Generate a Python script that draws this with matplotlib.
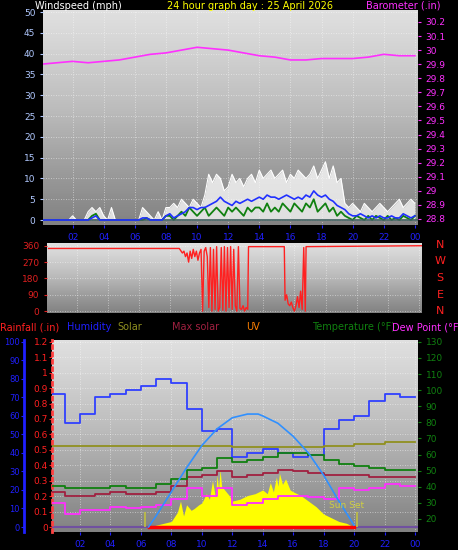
import numpy as np
import matplotlib
matplotlib.use("Agg")
import matplotlib.pyplot as plt

W, H = 458, 550

# ---- wind panel data (quarter-hourly, mph) ----
wind_hours = np.arange(0, 24.01, 0.25)
gust = [0, 0, 0, 0, 0, 0, 0, 0, 1, 0, 0, 0, 2, 3, 2, 3, 1, 0, 3, 0,
        0, 0, 0, 0, 0, 0, 3, 2, 1, 0, 2, 0, 3, 3, 4, 3, 5, 4, 3, 5,
        4, 3, 6, 11, 9, 11, 10, 7, 8, 11, 9, 10, 8, 10, 11, 9, 12, 10, 11, 12,
        10, 11, 12, 9, 11, 10, 12, 11, 10, 11, 13, 10, 12, 14, 10, 13, 9, 10, 4, 3,
        4, 3, 2, 4, 3, 2, 3, 4, 3, 2, 3, 4, 5, 3, 4, 5, 4]
avg = [0, 0, 0, 0, 0, 0, 0, 0, 0, 0, 0, 0, 0, 0.5, 1, 0, 0, 0, 0, 0,
       0, 0, 0, 0, 0, 0, 0.5, 0.5, 0, 0, 0, 0, 1, 1.5, 0.5, 1, 1.5, 2, 3, 3,
       2.5, 3, 3, 3.5, 4, 4.5, 5.5, 4.5, 4, 3.5, 4.5, 4, 4.5, 5, 4.5, 5, 5.5, 5, 6, 5.5,
       5.5, 5, 5.5, 6, 5.5, 5, 5.5, 5, 6, 5.5, 7, 6, 5.5, 6, 5, 4.5, 3.5, 3, 2.5, 1.5,
       1, 1, 1.5, 1, 0.5, 1, 0.5, 1, 0.5, 0.5, 1, 0.5, 0.5, 1.5, 1, 0.5, 1]
lull = [0, 0, 0, 0, 0, 0, 0, 0, 0, 0, 0, 0, 0, 1, 1.5, 0, 0, 0, 0, 0,
        0, 0, 0, 0, 0, 0, 0, 0.5, 0, 0, 0, 0, 1, 1, 0, 1, 2, 1, 3, 2,
        1, 2, 3, 1, 2, 3, 2, 1, 3, 2, 3, 2, 1, 3, 2, 3, 3, 2, 4, 2,
        3, 2, 4, 3, 2, 4, 3, 2, 4, 3, 5, 2, 3, 4, 2, 3, 1, 2, 1, 0.5,
        0, 1, 0.5, 0, 1, 0, 1, 0.5, 0, 1, 0, 0.5, 0, 1, 0.5, 0, 1]
baro_hours = np.arange(0, 25)
baro = [29.90, 29.91, 29.92, 29.91, 29.92, 29.93, 29.95, 29.97, 29.98, 30.00,
        30.02, 30.01, 30.00, 29.98, 29.96, 29.95, 29.93, 29.93, 29.94, 29.94,
        29.94, 29.95, 29.97, 29.96, 29.96]

# ---- wind direction (degrees) ----
dir_hours = [0.2, 8.6, 8.8, 8.9, 9.0, 9.1, 9.2, 9.3, 9.4, 9.5, 9.6, 9.7, 9.8, 9.9,
             10.0, 10.1, 10.2, 10.3, 10.4, 10.5, 10.6, 10.7, 10.8, 10.9, 11.0, 11.1,
             11.2, 11.3, 11.4, 11.5, 11.6, 11.7, 11.8, 11.9, 12.0, 12.1, 12.2, 12.3,
             12.4, 12.5, 12.6, 12.7, 12.8, 12.9, 13.0, 13.05, 15.35, 15.4, 15.5, 15.6,
             15.7, 15.8, 15.9, 16.0, 16.1, 16.2, 16.3, 16.4, 16.5, 16.6, 16.7, 16.75, 24.2]
dir_deg = [345, 345, 320, 330, 300, 320, 270, 330, 290, 340, 300, 330, 280, 320,
           340, 0, 330, 350, 300, 20, 350, 0, 340, 10, 355, 0, 20,
           350, 5, 355, 0, 350, 20, 355, 10, 340, 30, 0, 355,
           15, 10, 30, 0, 20, 10, 355, 355, 60, 90, 40, 30,
           50, 20, 0, 30, 80, 20, 110, 10, 350, 0, 355, 360]

# ---- bottom panel data (hourly, on humidity scale) ----
hours = np.arange(0, 25)
humidity = [72, 56, 61, 70, 72, 74, 76, 80, 78, 64, 52, 53, 38, 40, 42, 40, 38, 39,
            53, 58, 60, 68, 72, 70, 70]
solar_line = [44, 44, 44, 44, 44, 44, 44, 44, 44, 44, 44, 44, 43, 43, 43, 43, 43, 43,
              43.5, 43.5, 45, 45, 46, 46, 46]
max_solar = [19, 17, 17, 18, 19, 18, 18, 19, 22, 27, 28, 30, 27, 28, 29, 31, 30, 29,
             28, 28, 28, 27, 27, 27, 27]
temperature = [22, 21, 21, 21, 22, 21, 21, 23, 26, 31, 32, 37, 35, 36, 38, 40, 40, 39,
               36, 34, 33, 32, 31, 31, 31]
dew_point = [13, 7, 9, 9, 11, 10, 11, 12, 15, 21, 17, 21, 12, 13, 15, 17, 17, 16,
             15, 21, 20, 21, 23, 22, 22]
uv_hours = [6.5, 7, 8, 9, 10, 11, 12, 13, 13.7, 14, 15, 16, 17, 18, 19, 20]
uv = [0, 6, 19, 32, 44, 53, 59, 61, 61, 60, 56, 49, 40, 28, 14, 1]
sol_hours = [6.5, 7, 7.5, 8, 8.4, 8.6, 8.8, 9, 9.3, 9.5, 9.8, 10, 10.3, 10.5, 10.7,
             10.9, 11.0, 11.1, 11.2, 11.3, 11.5, 11.8, 12, 12.5, 13, 13.5, 14, 14.3,
             14.5, 14.7, 14.9, 15.0, 15.1, 15.3, 15.5, 15.8, 16, 16.5, 17, 17.5,
             18, 18.5, 19, 19.5, 20]
solar = [0, 1, 2, 3, 8, 14, 6, 12, 9, 10, 12, 13, 18, 15, 25, 16, 28, 20, 31, 22,
         20, 17, 14, 15, 17, 18, 20, 18, 24, 19, 27, 22, 29, 23, 26, 20,
         19, 17, 14, 11, 7, 5, 3, 2, 0]

x_ticks = list(range(2, 25, 2))
x_labels = ["%02d" % (h % 24) for h in x_ticks]

fig = plt.figure(figsize=(W / 100, H / 100), dpi=100, facecolor="black")
FS = 6.5


def pax(l, r, t, b):
    return fig.add_axes([l / W, 1 - b / H, (r - l) / W, (b - t) / H])


def gradient(ax):
    grad = np.linspace(0, 1, 256).reshape(-1, 1)
    ax.imshow(grad, aspect="auto", cmap=plt.cm.Greys, vmin=-0.6, vmax=2.2,
              extent=[*ax.get_xlim(), *ax.get_ylim()], origin="upper", zorder=0)
    ax.grid(True, color="white", lw=0.6, ls=(0, (1, 2)), alpha=0.6)


def style(ax):
    ax.set_facecolor("#c0c0c0")
    for s in ax.spines.values():
        s.set_visible(False)
    ax.tick_params(labelsize=FS, length=2)


# ---- top panel ----
ax1 = pax(43, 418, 10, 225)
style(ax1)
ax1.set_xlim(0.1, 24.2)
ax1.set_ylim(-1.2, 50.5)
gradient(ax1)
ax1.fill_between(wind_hours, 0, gust, color="white", alpha=0.75, lw=0, zorder=2)
ax1.plot(wind_hours, gust, color="white", lw=0.8, zorder=2)
ax1.plot(wind_hours, lull, color="#108010", lw=1.3, zorder=3)
ax1.plot(wind_hours, avg, color="#2030ff", lw=1.2, zorder=4)
ax1.axhline(0, color="#406060", lw=1.2, zorder=3)
ax1.set_yticks(range(0, 51, 5))
ax1.tick_params(axis="y", colors="#b0c8ff")
ax1.set_xticks(x_ticks)
ax1.set_xticklabels(x_labels)
ax1.tick_params(axis="x", colors="#2020ff")
b1 = ax1.twinx()
for s in b1.spines.values():
    s.set_visible(False)
b1.set_ylim(28.757, 30.285)
b1.plot(baro_hours, baro, color="#ff30ff", lw=1.2)
b1.set_yticks(np.round(np.arange(28.8, 30.21, 0.1), 1))
b1.set_yticklabels(["%g" % v for v in np.round(np.arange(28.8, 30.21, 0.1), 1)])
b1.tick_params(labelsize=FS, colors="#ff30ff", length=2)
fig.text(35 / W, 1 - 6 / H, "Windspeed (mph)", color="white", fontsize=7, va="center")
fig.text(250 / W, 1 - 6 / H, "24 hour graph day : 25 April 2026", color="yellow",
         fontsize=7, va="center", ha="center")
fig.text(440 / W, 1 - 6 / H, "Barometer (.in)", color="#ff30ff", fontsize=7,
         va="center", ha="right")

# ---- direction panel ----
ax2 = pax(47, 422, 243, 313)
style(ax2)
ax2.set_xlim(0.1, 24.2)
ax2.set_ylim(-10, 375)
gradient(ax2)
ax2.plot(dir_hours, dir_deg, color="#ff2020", lw=1.0)
ax2.set_yticks([0, 90, 180, 270, 360])
ax2.set_yticklabels(["0", "90", "180", "270", "360"])
ax2.tick_params(axis="y", colors="#e02020")
ax2.set_xticks(x_ticks)
ax2.tick_params(axis="x", labelbottom=False, length=0)
for i, c in enumerate("NWSEN"):
    fig.text(440 / W, 1 - (245 + i * 16.5) / H, c, color="#ff2020", fontsize=8,
             ha="center", va="center")

# ---- legend row ----
legend = [("Rainfall (.in)", "#ff2020", 0), ("Humidity", "#2020ff", 67),
          ("Solar", "#909020", 117), ("Max solar", "#a02040", 172),
          ("UV", "#ff8000", 246), ("Temperature (°F)", "#108010", 312),
          ("Dew Point (°F", "#ff30ff", 392)]
for txt, col, x in legend:
    fig.text(x / W, 1 - 327 / H, txt, color=col, fontsize=7, va="center")

# ---- bottom panel ----
ax3 = pax(52, 418, 340, 532)
style(ax3)
ax3.set_xlim(0.16, 24.2)
ax3.set_ylim(-2.7, 101)
gradient(ax3)
ax3.fill_between(sol_hours, 0, solar, color="yellow", lw=0, zorder=2)
ax3.axhline(0, color="#7050a0", lw=1.5, zorder=2)
ax3.plot([6.5, 20], [0, 0], color="#ff0000", lw=2.5, zorder=3)
ax3.step(hours, humidity, where="post", color="#3040ff", lw=1.3, zorder=4)
ax3.step(hours, solar_line, where="post", color="#909020", lw=1.3, zorder=4)
ax3.step(hours, max_solar, where="post", color="#a02040", lw=1.3, zorder=4)
ax3.step(hours, temperature, where="post", color="#108010", lw=1.3, zorder=4)
ax3.step(hours, dew_point, where="post", color="#ff30ff", lw=1.3, zorder=4)
ax3.plot(uv_hours, uv, color="#3090ff", lw=1.2, zorder=5)
ax3.vlines([6.3, 20.2], 0, 8, color="#c0c040", lw=1.2, zorder=5)
ax3.text(19.5, 10, "Sun Set", color="#d0d040", fontsize=6.5, ha="center", zorder=6)
ax3.set_yticks(np.linspace(0, 100, 13))
ax3.set_yticklabels(["%g" % v for v in np.round(np.arange(0, 1.21, 0.1), 1)])
ax3.tick_params(axis="y", colors="#ff2020", pad=1)
ax3.spines["left"].set_visible(True)
ax3.spines["left"].set_color("#ff4040")
ax3.spines["left"].set_linestyle(":")
ax3.spines["left"].set_linewidth(2)
ax3.set_xticks(x_ticks)
ax3.set_xticklabels(x_labels)
ax3.tick_params(axis="x", colors="#2020ff")

hum = ax3.twinx()
hum.set_ylim(-2.7, 101)
hum.yaxis.set_ticks_position("left")
hum.yaxis.set_label_position("left")
for s in hum.spines.values():
    s.set_visible(False)
hum.spines["left"].set_visible(True)
hum.spines["left"].set_position(("outward", 20))
hum.spines["left"].set_color("#2020ff")
hum.spines["left"].set_linewidth(2)
hum.set_yticks(range(0, 101, 10))
hum.tick_params(labelsize=6, colors="#2020ff", length=2, pad=1)

tmp = ax3.twinx()
for s in tmp.spines.values():
    s.set_visible(False)
tmp.set_ylim(15 - 2.7 * 1.15, 15 + 101 * 1.15)
tmp.set_yticks(range(20, 131, 10))
tmp.tick_params(labelsize=FS, colors="#108010", length=2)

fig.savefig("out.png", dpi=100, facecolor="black")
